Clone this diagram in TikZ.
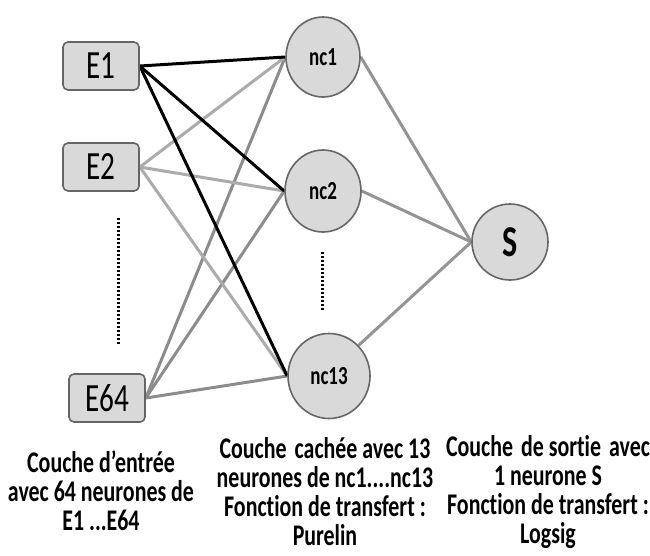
\documentclass[tikz,border=0pt]{standalone}
\usepackage{fontspec}
\setmainfont{Carlito}[FakeStretch=0.73, Ligatures={NoCommon,NoContextual}, RawFeature=-calt]
\usetikzlibrary{shapes.geometric,backgrounds}
\begin{document}
\begin{tikzpicture}[x=1pt, y=-1pt,
    entree/.style={draw=black!60, line width=1.6pt, fill=black!15, rounded corners=5pt,
        minimum width=76pt, minimum height=48pt, inner sep=0pt, font=\fontsize{40}{40}\selectfont},
    neurone/.style={ellipse, draw=black!60, line width=1.6pt, fill=black!15, inner sep=0pt,
        font=\bfseries\fontsize{26}{26}\selectfont},
    legende/.style={align=center, inner sep=1pt, font=\bfseries\fontsize{30}{29}\selectfont},
    noir/.style={line width=3pt, black},
    clair/.style={line width=3pt, black!33},
    moyen/.style={line width=3pt, black!45},
    sortie/.style={line width=3pt, black!42},
    points/.style={line width=3pt, dash pattern=on 2.2pt off 1.8pt}]
    \useasboundingbox (0,0) rectangle (650,555);
    % couche d'entree
    \node[entree] (E1) at (101,66) {E1};
    \node[entree] (E2) at (101,167) {E2};
    \node[entree] (E64) at (107,398) {E64};
    % couche cachee
    \node[neurone, minimum width=74pt, minimum height=80pt] (nc1) at (323,57) {nc1};
    \node[neurone, minimum width=76pt, minimum height=82pt] (nc2) at (323,191) {nc2};
    \node[neurone, minimum width=82pt, minimum height=85pt] (nc13) at (329,376) {nc13};
    % couche de sortie
    \node[neurone, minimum size=76pt, font=\bfseries\fontsize{44}{44}\selectfont] (S) at (510,242) {S};
    % pointilles
    \coordinate (p1) at (118,218);
    \coordinate (p2) at (118,344);
    \coordinate (p3) at (322,252);
    \coordinate (p4) at (322,310);
    \draw[points] (p1) -- (p2);
    \draw[points] (p3) -- (p4);
    \begin{scope}[on background layer]
        % liaisons entree -> cachee
        \foreach \h in {nc1,nc2,nc13} {
            \draw[moyen] (E64.east) -- (\h.west);
            \draw[clair] (E2.east) -- (\h.west);
            \draw[noir] (E1.east) -- (\h.west);
        }
        % liaisons cachee -> sortie
        \draw[sortie] (nc1.east) -- (S.west);
        \draw[sortie] (nc2.east) -- (S.west);
        \draw[sortie] (nc13.north east) -- (S.west);
    \end{scope}
    % legendes
    \node[legende] (L1) at (101,491) {Couche d’entrée\\avec 64 neurones de\\E1 ...E64};
    \node[legende] (L2) at (325,492) {Couche\hspace{8pt}cachée avec 13\\neurones de nc1....nc13\\Fonction de transfert :\\Purelin};
    \node[legende] (L3) at (548,492) {Couche\hspace{8pt}de sortie\hspace{8pt}avec\\1 neurone S\\Fonction de transfert :\\Logsig};
\end{tikzpicture}
\end{document}
